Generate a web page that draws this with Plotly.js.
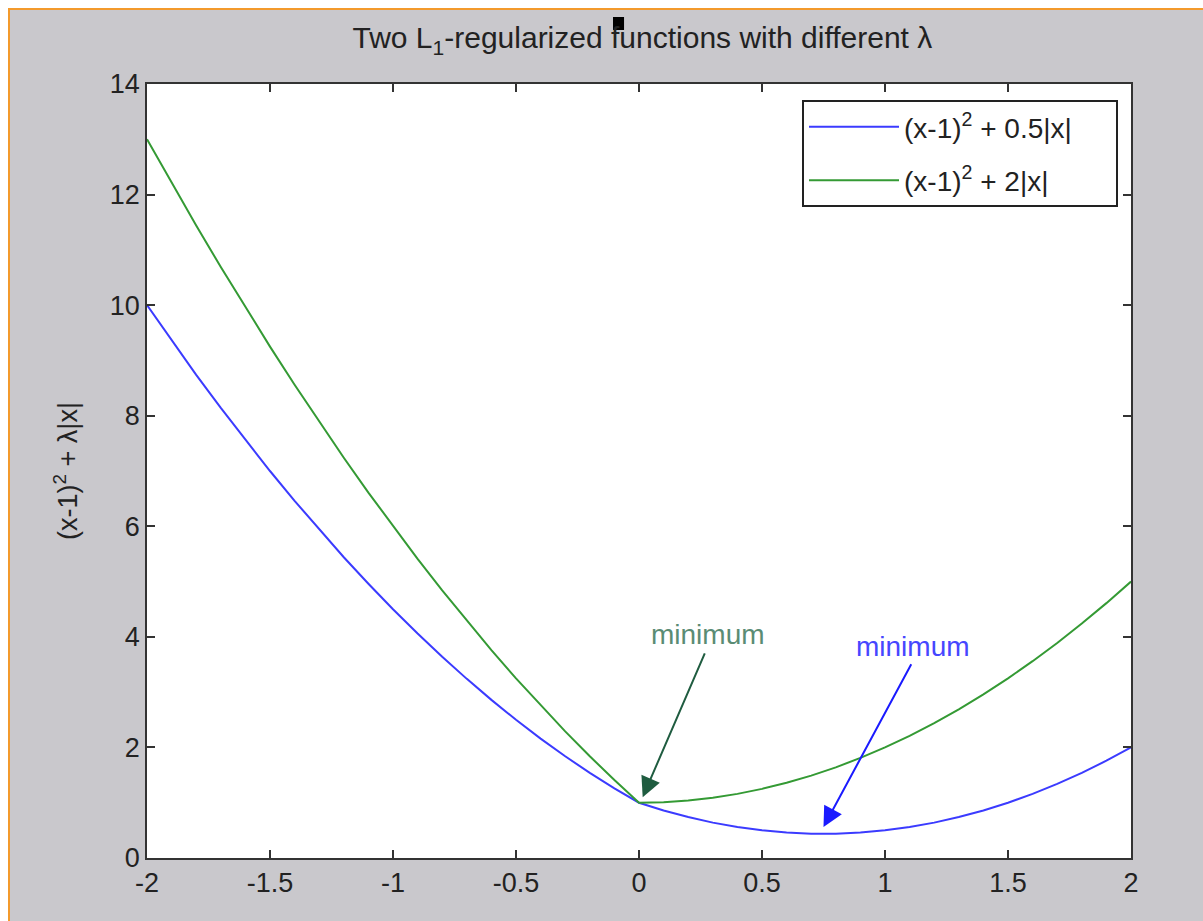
<!DOCTYPE html>
<html>
<head>
<meta charset="utf-8">
<script src="https://cdn.plot.ly/plotly-3.0.1.min.js"></script>
<style>
  body { margin: 0; background: #ffffff; }
  #frame { position: absolute; left: 8px; top: 8px; width: 1195px; height: 913px;
           background: #c9c8cc; border-top: 2px solid #f39a2c; border-left: 2px solid #f39a2c; }
  #myDiv { position: absolute; left: 0; top: 0; width: 1203px; height: 921px; }
</style>
</head>
<body>
<div id="frame"></div>
<div id="myDiv"></div>
<script>
var xs = [-2, -1.9, -1.8, -1.7, -1.6, -1.5, -1.4, -1.3, -1.2, -1.1, -1, -0.9, -0.8, -0.7, -0.6, -0.5, -0.4, -0.3, -0.2, -0.1, 0,
          0.1, 0.2, 0.3, 0.4, 0.5, 0.6, 0.7, 0.8, 0.9, 1, 1.1, 1.2, 1.3, 1.4, 1.5, 1.6, 1.7, 1.8, 1.9, 2];

// lambda = 0.5
var yHalf = [10, 9.36, 8.74, 8.14, 7.56, 7.0, 6.46, 5.94, 5.44, 4.96, 4.5, 4.06, 3.64, 3.24, 2.86, 2.5, 2.16, 1.84, 1.54, 1.26, 1,
             0.86, 0.74, 0.64, 0.56, 0.5, 0.46, 0.44, 0.44, 0.46, 0.5, 0.56, 0.64, 0.74, 0.86, 1.0, 1.16, 1.34, 1.54, 1.76, 2];

// lambda = 2
var yTwo = [13, 12.21, 11.44, 10.69, 9.96, 9.25, 8.56, 7.89, 7.24, 6.61, 6, 5.41, 4.84, 4.29, 3.76, 3.25, 2.76, 2.29, 1.84, 1.41, 1,
            1.01, 1.04, 1.09, 1.16, 1.25, 1.36, 1.49, 1.64, 1.81, 2, 2.21, 2.44, 2.69, 2.96, 3.25, 3.56, 3.89, 4.24, 4.61, 5];

var pad = '\u00a0\u00a0\u00a0\u00a0\u00a0';
var seriesNames = ['(x-1)<sup>2</sup> + 0.5|x|' + pad, '(x-1)<sup>2</sup> + 2|x|'];
var xTicks = [-2, -1.5, -1, -0.5, 0, 0.5, 1, 1.5, 2];
var yTicks = [0, 2, 4, 6, 8, 10, 12, 14];

// annotation points: [text x, text y, arrow tail x, tail y, head x, head y]
var greenMin = [0.28, 4.05, 0.27, 3.73, 0.015, 1.1];
var blueMin = [1.115, 3.82, 1.11, 3.53, 0.75, 0.56];

var fontFam = 'Liberation Sans, Arial, sans-serif';

var trace1 = {
  x: xs, y: yHalf, name: seriesNames[0], type: 'scatter', mode: 'lines', legendgroup: 'a',
  line: {color: '#3b3bff', width: 2}
};
var trace2 = {
  x: xs, y: yTwo, name: seriesNames[1], type: 'scatter', mode: 'lines', legendgroup: 'b',
  line: {color: '#349a34', width: 2}
};

var axisStyle = {
  showgrid: false, zeroline: false, showline: true, mirror: 'ticks',
  linecolor: '#333333', linewidth: 1.8, ticks: 'inside', ticklen: 8,
  tickcolor: '#333333', tickwidth: 1.5,
  tickfont: {family: fontFam, size: 27, color: '#222222'}
};

var layout = {
  width: 1203, height: 921,
  margin: {l: 147, r: 72, t: 84, b: 63},
  paper_bgcolor: 'rgba(0,0,0,0)',
  plot_bgcolor: '#ffffff',
  showlegend: true,
  title: {
    text: 'Two L<sub>1</sub>-regularized functions with different λ',
    font: {family: fontFam, size: 30, color: '#222222'},
    x: 0.534, xanchor: 'center', y: 0.959, yanchor: 'middle'
  },
  xaxis: Object.assign({}, axisStyle, {
    range: [-2, 2], tickvals: xTicks, ticktext: xTicks.map(String)
  }),
  yaxis: Object.assign({}, axisStyle, {
    range: [0, 14], tickvals: yTicks, ticktext: yTicks.map(String),
    title: {text: '(x-1)<sup>2</sup> + λ|x|', standoff: 24,
            font: {family: fontFam, size: 27, color: '#222222'}}
  }),
  legend: {
    x: 0.987, xanchor: 'right', y: 0.979, yanchor: 'top',
    bgcolor: '#ffffff', bordercolor: '#222222', borderwidth: 1.8,
    font: {family: fontFam, size: 28, color: '#222222'},
    itemwidth: 90, traceorder: 'grouped', tracegroupgap: 14
  },
  annotations: [
    {x: greenMin[0], y: greenMin[1], xref: 'x', yref: 'y', text: 'minimum', showarrow: false,
     font: {family: fontFam, size: 28, color: '#5a8c74'}},
    {x: greenMin[4], y: greenMin[5], ax: greenMin[2], ay: greenMin[3], axref: 'x', ayref: 'y',
     xref: 'x', yref: 'y', text: '', showarrow: true, arrowhead: 2, arrowsize: 2,
     arrowwidth: 2, arrowcolor: '#1f5c40'},
    {x: blueMin[0], y: blueMin[1], xref: 'x', yref: 'y', text: 'minimum', showarrow: false,
     font: {family: fontFam, size: 28, color: '#4646ff'}},
    {x: blueMin[4], y: blueMin[5], ax: blueMin[2], ay: blueMin[3], axref: 'x', ayref: 'y',
     xref: 'x', yref: 'y', text: '', showarrow: true, arrowhead: 2, arrowsize: 2,
     arrowwidth: 2, arrowcolor: '#1a1aff'}
  ],
  shapes: [
    // the little black square over the title
    {type: 'rect', xref: 'paper', yref: 'paper', x0: 0.4736, x1: 0.4848, y0: 1.0698, y1: 1.0866,
     fillcolor: '#000000', line: {width: 0}}
  ]
};

Plotly.newPlot('myDiv', [trace1, trace2], layout, {displayModeBar: false});
</script>
</body>
</html>
